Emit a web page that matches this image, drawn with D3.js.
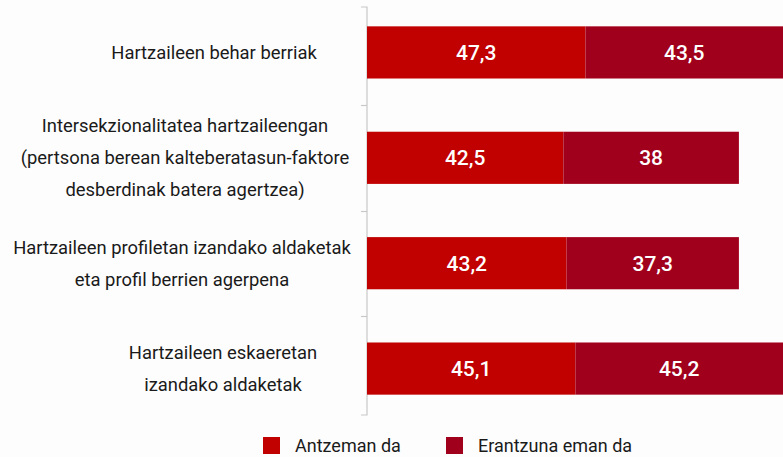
<!DOCTYPE html>
<html>
<head>
<meta charset="utf-8">
<script src="https://cdn.jsdelivr.net/npm/d3@7.9.0/dist/d3.min.js"></script>
<style>
  body { margin: 0; background: #fdfdfd; }
  svg { display: block; font-family: Roboto, sans-serif; }
</style>
</head>
<body>
<svg id="chart" width="783" height="457"></svg>
<script>
// categories, one entry per bar (lines of the wrapped label)
const categories = [
  ['Hartzaileen behar berriak'],
  ['Intersekzionalitatea hartzaileengan', '(pertsona berean kalteberatasun-faktore', 'desberdinak batera agertzea)'],
  ['Hartzaileen profiletan izandako aldaketak', 'eta profil berrien agerpena'],
  ['Hartzaileen eskaeretan', 'izandako aldaketak']
];
const seriesNames = ['Antzeman da', 'Erantzuna eman da'];
const antzeman = [47.3, 42.5, 43.2, 45.1];
const erantzuna = [43.5, 38, 37.3, 45.2];

const colors = ['#c10000', '#a1001c'];
const fmt = v => String(v).replace('.', ',');

const svg = d3.select('#chart');
const width = 783;

const rows = categories.map((c, i) => ({ idx: i, lines: c, vals: [antzeman[i], erantzuna[i]] }));

const x = d3.scaleLinear().domain([0, 100]).range([367, 829]);
const y = d3.scaleBand().domain(d3.range(rows.length)).range([0, 421])
  .paddingInner(0.505).paddingOuter(0.25);

// axis: vertical line with ticks between the bars
const axisG = svg.append('g').attr('transform', `translate(${x(0)},0)`)
  .attr('stroke', '#c8c8c8').attr('fill', 'none');
axisG.append('path').attr('d', 'M-6,7H0V415H-6').attr('stroke-width', 1.2);
const gap = y.step() * y.paddingInner();
d3.range(1, rows.length).forEach(i => {
  const ty = Math.round(y(i) - gap / 2) + 0.5;
  axisG.append('line').attr('x1', -6).attr('x2', 0).attr('y1', ty).attr('y2', ty).attr('stroke-width', 1.2);
});

// stacked bars
const stack = d3.stack().keys([0, 1]).value((d, k) => d.vals[k]);
const layers = stack(rows);

const barG = svg.append('g');
layers.forEach((layer, k) => {
  barG.selectAll(null).data(layer).join('rect')
    .attr('x', d => x(d[0]))
    .attr('y', d => y(d.data.idx))
    .attr('width', d => x(d[1]) - x(d[0]))
    .attr('height', y.bandwidth())
    .attr('fill', colors[k]);

  barG.selectAll(null).data(layer).join('text')
    .attr('x', d => (x(d[0]) + Math.min(x(d[1]), width)) / 2)
    .attr('y', d => y(d.data.idx) + y.bandwidth() / 2)
    .attr('dy', '0.36em')
    .attr('text-anchor', 'middle')
    .attr('fill', '#fff')
    .attr('font-size', 21)
    .attr('font-weight', 500)
    .text(d => fmt(d.data.vals[k]));
});

// category labels, lines centred in each block
const labelCx = [214, 185, 182, 223];
const lineH = 32;
const labelG = svg.append('g').attr('fill', '#1a1a1a').attr('font-size', 18.4);
rows.forEach((r, i) => {
  const cy = y(i) + y.bandwidth() / 2;
  const n = r.lines.length;
  r.lines.forEach((ln, j) => {
    labelG.append('text')
      .attr('x', labelCx[i])
      .attr('y', cy + (j - (n - 1) / 2) * lineH)
      .attr('dy', '0.35em')
      .attr('text-anchor', 'middle')
      .text(ln);
  });
});

// legend
const legendX = [263, 446];
const legG = svg.append('g').attr('font-size', 18).attr('fill', '#1a1a1a');
seriesNames.forEach((name, k) => {
  legG.append('rect').attr('x', legendX[k]).attr('y', 437).attr('width', 17).attr('height', 17).attr('fill', colors[k]);
  legG.append('text').attr('x', legendX[k] + 32).attr('y', 452).text(name);
});
</script>
</body>
</html>
